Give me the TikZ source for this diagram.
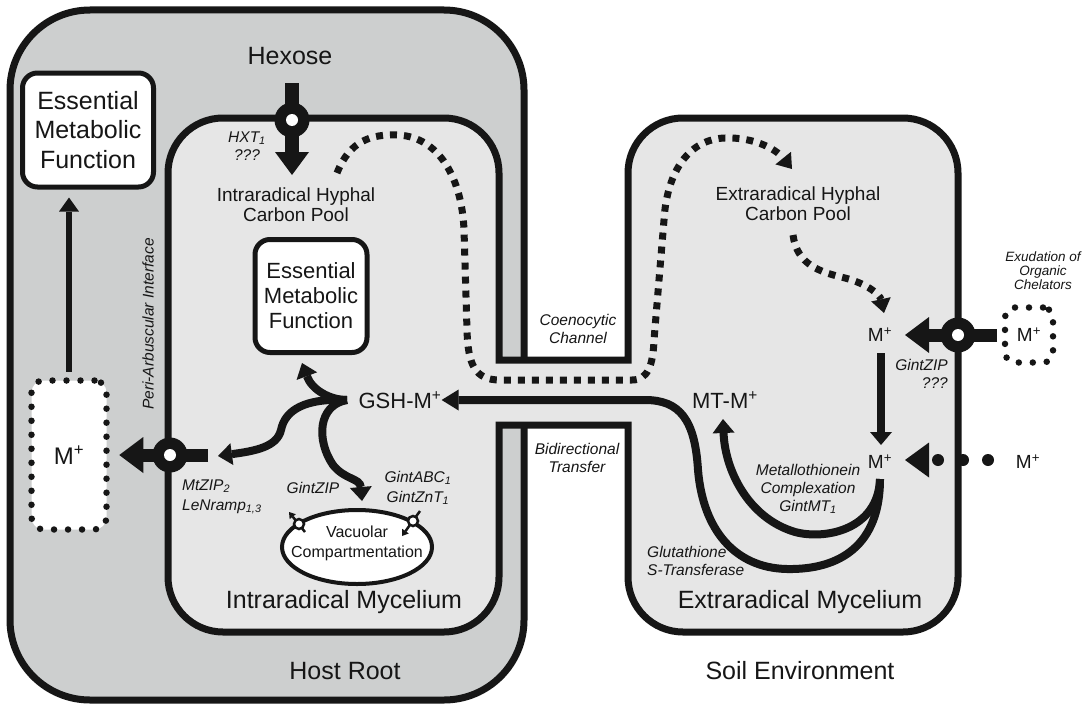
\documentclass[tikz,border=0pt]{standalone}
\usepackage{fontspec}
\setmainfont{Liberation Sans}
\usetikzlibrary{arrows.meta}
\definecolor{hostgray}{RGB}{205,207,207}
\definecolor{mycgray}{RGB}{230,230,230}
\definecolor{ink}{RGB}{22,22,22}
\begin{document}
\begin{tikzpicture}[x=1pt,y=-1pt,
  txt/.style={inner sep=0pt, align=center, text=ink},
  f25/.style={font=\fontsize{25}{29.5}\selectfont},
  f22/.style={font=\fontsize{22}{25}\selectfont},
  f19/.style={font=\fontsize{19}{20}\selectfont},
  f16/.style={font=\fontsize{16}{20}\selectfont},
  ital/.style={font=\fontsize{15.5}{18}\selectfont\itshape},
  boxw/.style={draw=ink, fill=white, line width=5pt, rounded corners=15pt, inner sep=0pt, align=center, text=ink},
  bigarrow/.style={draw=ink, line width=13pt, -{Triangle[length=24pt,width=36pt,line width=0pt]}},
  hexarrow/.style={draw=ink, line width=14pt, -{Triangle[length=23pt,width=34pt,line width=0pt]}},
  medarrow/.style={draw=ink, line width=8pt, -{Triangle[length=14pt,width=22pt,line width=0pt]}},
  thinarrow/.style={draw=ink, line width=6pt, -{Triangle[length=14pt,width=20pt,line width=0pt]}},
  dotarrow/.style={draw=ink, line width=7pt, dash pattern=on 7pt off 7pt, -{Triangle[length=14pt,width=20pt,line width=0pt]}},
  dotbox/.style={draw=ink, fill=white, line width=6.5pt, line cap=round, dash pattern=on 0pt off 14pt, rounded corners=12pt, inner sep=0pt, text=ink},
  portout/.style={circle, fill=ink, minimum size=35pt, inner sep=0pt},
  portin/.style={circle, fill=white, minimum size=12pt, inner sep=0pt},
  vacport/.style={circle, draw=ink, fill=white, line width=2.5pt, minimum size=10pt, inner sep=0pt},
  vacarrow/.style={draw=ink, line width=2.5pt, -{Triangle[length=6pt,width=8pt,line width=0pt]}},
]
\useasboundingbox (0,0) rectangle (1086,709);
\fill[white] (0,0) rectangle (1086,709);

% host root
\draw[ink, fill=hostgray, line width=7pt, rounded corners=80pt] (10,10) rectangle (524,700);

% mycelium (intraradical + channel + extraradical)
\draw[ink, fill=mycgray, line width=7pt, line join=miter]
  (223,118) -- (444,118) arc[start angle=270,end angle=360,radius=55]
  -- (499,360) -- (628,360) -- (628,173) arc[start angle=180,end angle=270,radius=55]
  -- (903,118) arc[start angle=270,end angle=360,radius=55]
  -- (958,577) arc[start angle=0,end angle=90,radius=55]
  -- (683,632) arc[start angle=90,end angle=180,radius=55]
  -- (628,425) -- (499,425)
  -- (499,577) arc[start angle=0,end angle=90,radius=55]
  -- (223,632) arc[start angle=90,end angle=180,radius=55]
  -- (168,173) arc[start angle=180,end angle=270,radius=55] -- cycle;

% ---------- text nodes ----------
\node[txt,f25] (hexose) at (290,56) {Hexose};
\node[boxw, f25, minimum width=131pt, minimum height=114pt] (emf1) at (88,130) {Essential\\Metabolic\\Function};
\node[boxw, f22, minimum width=112pt, minimum height=113pt] (emf2) at (311,296) {Essential\\Metabolic\\Function};
\node[dotbox, minimum width=75pt, minimum height=149pt, font=\fontsize{24}{24}\selectfont] (mhost) at (69,455) {M\textsuperscript{+}};
\node[txt,f19] (icp) at (296,205) {Intraradical Hyphal\\Carbon Pool};
\node[txt,f19] (ecp) at (798,204) {Extraradical Hyphal\\Carbon Pool};
\node[txt,f22] (gsh) at (400,400) {GSH-M\textsuperscript{+}};
\node[txt,f22] (mtm) at (725,400) {MT-M\textsuperscript{+}};
\node[txt,f19] (upM) at (880,335) {M\textsuperscript{+}};
\node[txt,f19] (lowM) at (880,462) {M\textsuperscript{+}};
\node[txt,f19] (soilM) at (1028,462) {M\textsuperscript{+}};
\node[dotbox, f19, rounded corners=10pt, minimum width=48pt, minimum height=55pt] (exM) at (1029,335) {M\textsuperscript{+}};
\node[txt, font=\fontsize{13.5}{14}\selectfont\itshape] (exud) at (1043,271) {Exudation of\\Organic\\Chelators};

\node[txt,ital] (hxt) at (247,146) {HXT\textsubscript{1}\\???};
\node[txt,ital,rotate=90] (pai) at (148,324) {Peri-Arbuscular Interface};
\node[txt,ital,anchor=west,align=left,font=\fontsize{15.5}{20}\selectfont\itshape] (mtzip) at (182,497) {MtZIP\textsubscript{2}\\LeNramp\textsubscript{1,3}};
\node[txt,ital] (gintzipv) at (313,488) {GintZIP};
\node[txt,ital,font=\fontsize{15.5}{20}\selectfont\itshape] (gintabc) at (418,488) {GintABC\textsubscript{1}\\GintZnT\textsubscript{1}};
\node[txt,ital] (coeno) at (578,329) {Coenocytic\\Channel};
\node[txt,ital] (bidir) at (577,458) {Bidirectional\\Transfer};
\node[txt,ital,anchor=east,align=right] (gintzipe) at (948,374) {GintZIP\\???};
\node[txt,ital] (mtc) at (808,489) {Metallothionein\\Complexation\\GintMT\textsubscript{1}};
\node[txt,ital,anchor=west,align=left] (gst) at (647,561) {Glutathione\\S-Transferase};

\node[txt,f25] (imyc) at (344,602) {Intraradical Mycelium};
\node[txt,f25] (emyc) at (800,602) {Extraradical Mycelium};
\node[txt,f25] (host) at (345,671) {Host Root};
\node[txt,f25] (soil) at (800,671) {Soil Environment};

% vacuole
\draw[ink, fill=white, line width=4pt] (357,547) ellipse[x radius=75, y radius=37];
\node[txt,f16] (vac) at (357,543) {Vacuolar\\Compartmentation};

% ---------- coordinates ----------
\coordinate (hexS) at (292,83);
\coordinate (hexT) at (292,175);
\coordinate (hxtC) at (292,120);
\coordinate (paiS) at (208,455);
\coordinate (paiC) at (170,455);
\coordinate (exS) at (997,335);
\coordinate (exC) at (958,335);
\coordinate (exT) at (905,335);
\coordinate (dotS) at (988,460);
\coordinate (dotT) at (905,460);
\coordinate (upMs) at (881,353);
\coordinate (lowMn) at (881,445);
\coordinate (lowMs) at (880,479);
\coordinate (mtT) at (723,419);
\coordinate (gshJ) at (347,400);
\coordinate (emf2T) at (302,363);
\coordinate (mtzT) at (218,456);
\coordinate (vacT) at (362,501);
\coordinate (icpS) at (337,173);
\coordinate (ecpT) at (792,169);
\coordinate (ecpS) at (793,235);
\coordinate (upMT) at (884,313);

% ---------- connectors ----------
% hexose uptake
\draw[hexarrow] (hexS) -- (hexT);
\node[portout] (hxtport) at (hxtC) {};
\node[portin] at (hxtport) {};

% to host
\draw[thinarrow, shorten <=5.5pt, shorten >=8pt] (mhost.north) -- (mhost.north |- emf1.south);
\draw[bigarrow, shorten >=9.5pt] (paiS) -- (mhost.east);
\node[portout] (paiport) at (paiC) {};
\node[portin] at (paiport) {};

% carbon transfer
\draw[dotarrow] (icpS) .. controls (350,140) and (372,134) .. (398,135)
  .. controls (440,137) and (462,180) .. (464,230) -- (467,330)
  .. controls (468,365) and (475,380) .. (500,380) -- (632,380)
  .. controls (648,380) and (653,365) .. (654,340) -- (664,220)
  .. controls (667,170) and (690,139) .. (725,138)
  .. controls (752,137) and (775,148) .. (ecpT);
\draw[dotarrow] (ecpS) .. controls (797,265) and (820,272) .. (845,278)
  .. controls (868,284) and (880,295) .. (upMT);

% metal uptake in soil
\draw[bigarrow] (exS) -- (exT);
\node[portout] (export) at (exC) {};
\node[portin] at (export) {};
\draw[ink, line width=12pt, line cap=round, dash pattern=on 0pt off 25pt, -{Triangle[length=24pt,width=35pt,line width=0pt]}] (dotS) -- (dotT);
\draw[medarrow, -{Triangle[length=13pt,width=22pt,line width=0pt]}] (upMs) -- (lowMn);

% complexation
\draw[medarrow] (lowMs) .. controls (878,530) and (825,540) .. (795,532)
  .. controls (748,518) and (725,470) .. (mtT);
\draw[medarrow, -{Triangle[length=17pt,width=21pt,line width=0pt]}] (lowMs)
  .. controls (880,545) and (840,570) .. (787,569)
  .. controls (735,568) and (703,530) .. (698,470)
  .. controls (695,420) and (680,400) .. (645,400) -- (gsh.east);

% GSH branches
\draw[medarrow] (gshJ) .. controls (330,400) and (312,390) .. (emf2T);
\draw[medarrow] (gshJ) .. controls (305,398) and (285,410) .. (281,430)
  .. controls (277,447) and (255,451) .. (mtzT);
\draw[medarrow] (gshJ) .. controls (318,405) and (316,440) .. (333,465)
  .. controls (345,480) and (360,478) .. (vacT);

% vacuolar transporters
\draw[vacarrow] (305,532) -- (289,512);
\node[vacport] at (299,524) {};
\draw[vacarrow] (420,511) -- (402,536);
\node[vacport] at (413,521) {};
\end{tikzpicture}
\end{document}
